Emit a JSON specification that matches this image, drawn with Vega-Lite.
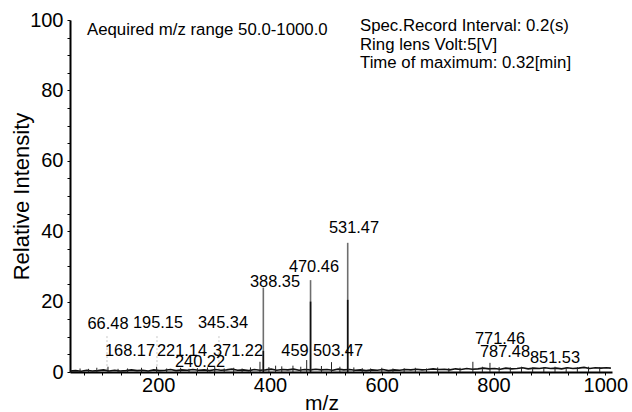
{
  "$schema": "https://vega.github.io/schema/vega-lite/v6.json",
  "width": 542,
  "height": 352,
  "autosize": {"type": "none"},
  "padding": {"left": 70, "top": 20, "right": 20, "bottom": 40},
  "background": "white",
  "config": {
    "view": {"stroke": null},
    "font": "Liberation Sans",
    "text": {"font": "Liberation Sans"}
  },
  "datasets": {
    "noise": [
      {"mz": 42, "v": 0.3}, {"mz": 52, "v": 0.4}, {"mz": 62, "v": 0.2}, {"mz": 72, "v": 0.5}, {"mz": 82, "v": 0.3},
      {"mz": 92, "v": 0.4}, {"mz": 102, "v": 0.6}, {"mz": 112, "v": 0.3}, {"mz": 122, "v": 0.5}, {"mz": 132, "v": 0.3},
      {"mz": 142, "v": 0.4}, {"mz": 152, "v": 0.6}, {"mz": 162, "v": 0.4}, {"mz": 172, "v": 0.5}, {"mz": 182, "v": 0.3},
      {"mz": 192, "v": 0.6}, {"mz": 202, "v": 0.4}, {"mz": 212, "v": 0.5}, {"mz": 222, "v": 0.7}, {"mz": 232, "v": 0.4},
      {"mz": 242, "v": 0.6}, {"mz": 252, "v": 0.5}, {"mz": 262, "v": 0.7}, {"mz": 272, "v": 0.5}, {"mz": 282, "v": 0.6},
      {"mz": 292, "v": 0.4}, {"mz": 302, "v": 0.7}, {"mz": 312, "v": 0.5}, {"mz": 322, "v": 0.6}, {"mz": 332, "v": 0.8},
      {"mz": 342, "v": 0.5}, {"mz": 352, "v": 0.6}, {"mz": 362, "v": 0.4}, {"mz": 372, "v": 0.7}, {"mz": 382, "v": 0.5},
      {"mz": 392, "v": 0.6}, {"mz": 402, "v": 0.8}, {"mz": 412, "v": 0.5}, {"mz": 422, "v": 0.7}, {"mz": 432, "v": 0.6},
      {"mz": 442, "v": 0.8}, {"mz": 452, "v": 0.5}, {"mz": 462, "v": 0.7}, {"mz": 472, "v": 0.6}, {"mz": 482, "v": 0.8},
      {"mz": 492, "v": 0.6}, {"mz": 502, "v": 0.7}, {"mz": 512, "v": 0.5}, {"mz": 522, "v": 0.8}, {"mz": 532, "v": 0.6},
      {"mz": 542, "v": 0.7}, {"mz": 552, "v": 0.5}, {"mz": 562, "v": 0.6}, {"mz": 572, "v": 0.4}, {"mz": 582, "v": 0.6},
      {"mz": 592, "v": 0.5}, {"mz": 602, "v": 0.7}, {"mz": 612, "v": 0.4}, {"mz": 622, "v": 0.6}, {"mz": 632, "v": 0.5},
      {"mz": 642, "v": 0.7}, {"mz": 652, "v": 0.6}, {"mz": 662, "v": 0.8}, {"mz": 672, "v": 0.6}, {"mz": 682, "v": 0.7},
      {"mz": 692, "v": 0.9}, {"mz": 702, "v": 0.7}, {"mz": 712, "v": 0.8}, {"mz": 722, "v": 0.6}, {"mz": 732, "v": 0.9},
      {"mz": 742, "v": 0.7}, {"mz": 752, "v": 1.0}, {"mz": 762, "v": 0.8}, {"mz": 772, "v": 0.9}, {"mz": 782, "v": 1.1},
      {"mz": 792, "v": 0.9}, {"mz": 802, "v": 1.0}, {"mz": 812, "v": 0.8}, {"mz": 822, "v": 1.1}, {"mz": 832, "v": 0.9},
      {"mz": 842, "v": 1.0}, {"mz": 852, "v": 1.2}, {"mz": 862, "v": 0.9}, {"mz": 872, "v": 1.1}, {"mz": 882, "v": 1.0},
      {"mz": 892, "v": 1.2}, {"mz": 902, "v": 1.0}, {"mz": 912, "v": 1.1}, {"mz": 922, "v": 0.9}, {"mz": 932, "v": 1.2},
      {"mz": 942, "v": 1.0}, {"mz": 952, "v": 1.1}, {"mz": 962, "v": 1.3}, {"mz": 972, "v": 1.0}, {"mz": 982, "v": 1.2},
      {"mz": 992, "v": 1.1}, {"mz": 1002, "v": 1.2}, {"mz": 1010, "v": 1.1}
    ],
    "spikes": [
      {"mz": 60, "v": 1.0}, {"mz": 75, "v": 0.9}, {"mz": 90, "v": 1.2}, {"mz": 110, "v": 1.5}, {"mz": 128, "v": 0.9},
      {"mz": 145, "v": 1.0}, {"mz": 170, "v": 1.2}, {"mz": 197, "v": 1.5}, {"mz": 215, "v": 1.0}, {"mz": 240, "v": 1.2},
      {"mz": 255, "v": 0.9}, {"mz": 270, "v": 1.1}, {"mz": 288, "v": 1.3}, {"mz": 301, "v": 1.5}, {"mz": 318, "v": 1.0},
      {"mz": 335, "v": 1.2}, {"mz": 350, "v": 1.0}, {"mz": 365, "v": 1.3}, {"mz": 382, "v": 2.9}, {"mz": 398, "v": 1.4},
      {"mz": 410, "v": 1.8}, {"mz": 421, "v": 1.6}, {"mz": 441, "v": 1.8}, {"mz": 455, "v": 1.5}, {"mz": 465.6, "v": 3.4},
      {"mz": 492, "v": 1.7}, {"mz": 510, "v": 2.8}, {"mz": 525, "v": 1.5}, {"mz": 550, "v": 1.3}, {"mz": 565, "v": 1.1},
      {"mz": 580, "v": 1.0}, {"mz": 600, "v": 1.2}, {"mz": 620, "v": 1.0}, {"mz": 640, "v": 1.1}, {"mz": 660, "v": 1.2},
      {"mz": 680, "v": 1.0}, {"mz": 700, "v": 1.3}, {"mz": 720, "v": 1.1}, {"mz": 740, "v": 1.2}, {"mz": 763, "v": 2.9},
      {"mz": 780, "v": 1.5}, {"mz": 793.6, "v": 2.6}, {"mz": 810, "v": 1.4}, {"mz": 830, "v": 1.3}, {"mz": 850, "v": 1.5},
      {"mz": 870, "v": 1.3}, {"mz": 890, "v": 1.4}, {"mz": 910, "v": 1.5}, {"mz": 930, "v": 1.3}, {"mz": 950, "v": 1.4},
      {"mz": 970, "v": 1.5}, {"mz": 990, "v": 1.4}
    ],
    "faint": [
      {"mz": 108.2, "v": 10.2}, {"mz": 197.7, "v": 10.2}, {"mz": 308.6, "v": 10.2}
    ],
    "peaks": [
      {"mz": 388, "v": 24.0, "tone": "light"},
      {"mz": 472.5, "v": 26.1, "tone": "light"},
      {"mz": 539, "v": 36.7, "tone": "light"},
      {"mz": 388, "v": 6.0, "tone": "dark"},
      {"mz": 472.5, "v": 20.0, "tone": "dark"},
      {"mz": 539, "v": 20.5, "tone": "dark"}
    ],
    "labels": [
      {"mz": 110, "v": 12.2, "text": "66.48"},
      {"mz": 199.5, "v": 12.4, "text": "195.15"},
      {"mz": 315.8, "v": 12.4, "text": "345.34"},
      {"mz": 149.4, "v": 4.5, "text": "168.17"},
      {"mz": 242.4, "v": 4.5, "text": "221.14"},
      {"mz": 342.6, "v": 4.5, "text": "371.22"},
      {"mz": 274.6, "v": 1.4, "text": "240.22"},
      {"mz": 408.9, "v": 24.1, "text": "388.35"},
      {"mz": 478.6, "v": 28.4, "text": "470.46"},
      {"mz": 550.2, "v": 39.5, "text": "531.47"},
      {"mz": 444.6, "v": 4.5, "text": "459"},
      {"mz": 521.6, "v": 4.5, "text": "503.47"},
      {"mz": 811.5, "v": 7.9, "text": "771.46"},
      {"mz": 820.5, "v": 4.4, "text": "787.48"},
      {"mz": 910, "v": 2.6, "text": "851.53"}
    ],
    "notes": [
      {"mz": 72.4, "v": 95.7, "text": "Aequired m/z range 50.0-1000.0"},
      {"mz": 561, "v": 96.96, "text": "Spec.Record Interval: 0.2(s)"},
      {"mz": 561, "v": 91.5, "text": "Ring lens Volt:5[V]"},
      {"mz": 561, "v": 86.3, "text": "Time of maximum: 0.32[min]"}
    ]
  },
  "encoding": {
    "x": {
      "field": "mz",
      "type": "quantitative",
      "scale": {"domain": [42, 1012], "nice": false, "zero": false},
      "axis": {
        "title": "m/z",
        "titleFont": "Liberation Sans",
        "titleFontSize": 21,
        "titleFontWeight": "normal",
        "titleColor": "black",
        "titleX": 251.5,
        "titleY": 37,
        "titleAlign": "center",
        "titleBaseline": "alphabetic",
        "values": [66.667, 100, 133.333, 166.667, 200, 233.333, 266.667, 300, 333.333, 366.667, 400, 433.333, 466.667, 500, 533.333, 566.667, 600, 633.333, 666.667, 700, 733.333, 766.667, 800, 833.333, 866.667, 900, 933.333, 966.667, 1000],
        "labelExpr": "datum.value % 200 == 0 ? format(datum.value, 'd') : ''",
        "labelFont": "Liberation Sans",
        "labelFontSize": 20,
        "labelColor": "black",
        "labelBaseline": "alphabetic",
        "labelPadding": 16,
        "labelOverlap": false,
        "labelFlush": false,
        "tickSize": 3,
        "tickColor": "black",
        "domainColor": "black",
        "domainWidth": 2,
        "grid": false
      }
    },
    "y": {
      "field": "v",
      "type": "quantitative",
      "scale": {"domain": [0, 100], "nice": false},
      "axis": {
        "title": "Relative Intensity",
        "titleFont": "Liberation Sans",
        "titleFontSize": 22,
        "titleFontWeight": "normal",
        "titleColor": "black",
        "titleAngle": 270,
        "titleX": -41.5,
        "titleY": 176,
        "titleAlign": "center",
        "titleBaseline": "alphabetic",
        "values": [0, 5, 10, 15, 20, 25, 30, 35, 40, 45, 50, 55, 60, 65, 70, 75, 80, 85, 90, 95, 100],
        "labelExpr": "datum.value % 20 == 0 ? datum.label : ''",
        "labelFont": "Liberation Sans",
        "labelFontSize": 20,
        "labelColor": "black",
        "labelPadding": 4,
        "labelOverlap": false,
        "labelFlush": false,
        "tickSize": 3,
        "tickColor": "black",
        "domainColor": "black",
        "domainWidth": 2,
        "grid": false
      }
    }
  },
  "layer": [
    {
      "data": {"name": "faint"},
      "mark": {"type": "rule", "color": "#c8c8c8", "strokeWidth": 1, "strokeDash": [2, 2]},
      "encoding": {"y2": {"datum": 0}}
    },
    {
      "data": {"name": "noise"},
      "mark": {"type": "line", "color": "#111111", "strokeWidth": 1.6},
      "encoding": {}
    },
    {
      "data": {"name": "spikes"},
      "mark": {"type": "rule", "color": "#222222", "strokeWidth": 1},
      "encoding": {"y2": {"datum": 0}}
    },
    {
      "data": {"name": "peaks"},
      "mark": {"type": "rule", "strokeWidth": 1.6},
      "encoding": {
        "y2": {"datum": 0},
        "color": {"field": "tone", "type": "nominal", "scale": {"domain": ["light", "dark"], "range": ["#6e6e6e", "#111111"]}, "legend": null}
      }
    },
    {
      "data": {"name": "labels"},
      "mark": {"type": "text", "fontSize": 16.4, "align": "center", "baseline": "alphabetic", "color": "black", "font": "Liberation Sans"},
      "encoding": {"text": {"field": "text"}}
    },
    {
      "data": {"name": "notes"},
      "mark": {"type": "text", "fontSize": 16.8, "align": "left", "baseline": "alphabetic", "color": "black", "font": "Liberation Sans"},
      "encoding": {"text": {"field": "text"}}
    }
  ]
}
